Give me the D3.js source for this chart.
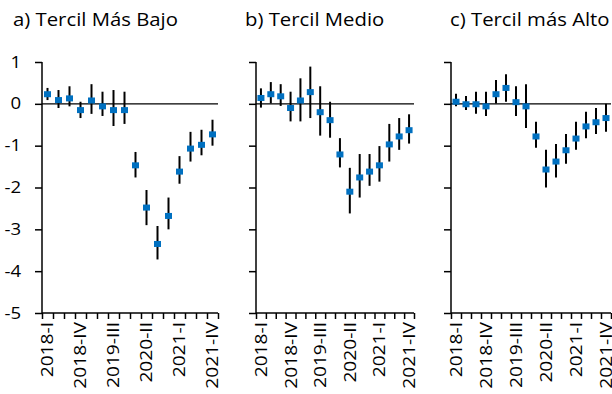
<!DOCTYPE html>
<html>
<head>
<meta charset="utf-8">
<script src="https://cdn.jsdelivr.net/npm/d3@7"></script>
<style>
  body { margin: 0; background: #fff; }
  svg { display: block; }
  text { font-family: "Open Sans", "DejaVu Sans", sans-serif; fill: #000; }
</style>
</head>
<body>
<svg id="chart" width="612" height="394"></svg>
<script>
// quarters on the x axis
var quarters = ["2018-I", "2018-II", "2018-III", "2018-IV",
  "2019-I", "2019-II", "2019-III", "2019-IV",
  "2020-I", "2020-II", "2020-III", "2020-IV",
  "2021-I", "2021-II", "2021-III", "2021-IV"];
var shownLabels = ["2018-I", "2018-IV", "2019-III", "2020-II", "2021-I", "2021-IV"];
var yTicks = [1, 0, -1, -2, -3, -4, -5];
var titles = ["a) Tercil Más Bajo", "b) Tercil Medio", "c) Tercil más Alto"];

// point estimates and confidence bounds, per tercile
var bajoVal = [0.23, 0.09, 0.13, -0.15, 0.08, -0.06, -0.15, -0.15, -1.47, -2.48, -3.35, -2.68, -1.62, -1.07, -0.98, -0.73];
var bajoLo  = [0.09, -0.10, -0.06, -0.34, -0.24, -0.29, -0.53, -0.48, -1.76, -2.90, -3.72, -3.00, -1.91, -1.38, -1.23, -1.00];
var bajoHi  = [0.38, 0.33, 0.42, 0.05, 0.47, 0.29, 0.33, 0.29, -1.15, -2.06, -2.92, -2.24, -1.25, -0.67, -0.62, -0.38];

var medioVal = [0.14, 0.23, 0.18, -0.10, 0.08, 0.28, -0.20, -0.39, -1.21, -2.10, -1.76, -1.62, -1.47, -0.97, -0.78, -0.63];
var medioLo  = [-0.09, 0.01, -0.05, -0.42, -0.42, -0.34, -0.76, -0.81, -1.52, -2.62, -2.24, -1.96, -1.86, -1.38, -1.10, -0.95];
var medioHi  = [0.37, 0.52, 0.47, 0.29, 0.61, 0.89, 0.42, 0.05, -0.82, -1.53, -1.20, -1.20, -1.01, -0.48, -0.34, -0.25];

var altoVal = [0.05, -0.01, -0.01, -0.06, 0.23, 0.38, 0.04, -0.06, -0.78, -1.57, -1.38, -1.11, -0.83, -0.54, -0.44, -0.34];
var altoLo  = [-0.06, -0.15, -0.24, -0.29, 0.01, 0.05, -0.29, -0.58, -1.05, -2.00, -1.76, -1.43, -1.10, -0.82, -0.72, -0.67];
var altoHi  = [0.24, 0.19, 0.29, 0.29, 0.57, 0.71, 0.42, 0.47, -0.43, -1.10, -0.96, -0.72, -0.43, -0.19, -0.10, 0.00];

var panels = [
  { title: titles[0], val: bajoVal, lo: bajoLo, hi: bajoHi, x0: 42, x1: 218, tx: 13, labels: true },
  { title: titles[1], val: medioVal, lo: medioLo, hi: medioHi, x0: 256, x1: 414, tx: 245, labels: false },
  { title: titles[2], val: altoVal, lo: altoLo, hi: altoHi, x0: 451, x1: 611, tx: 450, labels: false }
];

// the reference font runs a bit wider than Open Sans at the same height
var stretch = 1.16;
function widen(sel) {
  sel.each(function() {
    var w = this.getComputedTextLength();
    if (w > 0) {
      d3.select(this)
        .attr("textLength", w * stretch)
        .attr("lengthAdjust", "spacingAndGlyphs");
    }
  });
}

var svg = d3.select("#chart");
var y = d3.scaleLinear().domain([-5, 1]).range([313, 62]);

panels.forEach(function(p) {
  var g = svg.append("g");

  var x = d3.scaleBand().domain(quarters).range([p.x0, p.x1]).padding(0);
  var xIdx = d3.scaleLinear().domain([0, quarters.length]).range([p.x0, p.x1]);

  g.append("text")
    .attr("x", p.tx)
    .attr("y", 26)
    .style("font-size", "17.5px")
    .text(p.title)
    .call(widen);

  // error bars
  g.selectAll("line.err")
    .data(quarters)
    .enter().append("line")
    .attr("class", "err")
    .attr("x1", function(d) { return x(d) + x.bandwidth() / 2; })
    .attr("x2", function(d) { return x(d) + x.bandwidth() / 2; })
    .attr("y1", function(d, i) { return y(p.lo[i]); })
    .attr("y2", function(d, i) { return y(p.hi[i]); })
    .attr("stroke", "#000")
    .attr("stroke-width", 2);

  // zero line
  g.append("line")
    .attr("x1", p.x0).attr("x2", p.x1)
    .attr("y1", y(0)).attr("y2", y(0))
    .attr("stroke", "#000")
    .attr("stroke-width", 1.3);

  // y axis
  var yAxis = d3.axisLeft(y).tickValues(yTicks).tickSize(7).tickPadding(14)
    .tickFormat(p.labels ? function(d) { return String(d); } : "");
  var ya = g.append("g")
    .attr("transform", "translate(" + p.x0 + ",0)")
    .call(yAxis);
  ya.select(".domain").attr("stroke", "#000").attr("stroke-width", 1.5).attr("d", "M0," + y(1) + "V" + y(-5));
  ya.selectAll(".tick line").attr("stroke", "#000").attr("stroke-width", 1.5);
  ya.selectAll("text").style("font-size", "16px").attr("fill", "#000").call(widen);

  // x axis: tick marks at quarter boundaries
  var xTicks = g.append("g")
    .attr("transform", "translate(0," + y(-5) + ")")
    .call(d3.axisBottom(xIdx).tickValues(d3.range(quarters.length + 1)).tickSize(6).tickFormat(""));
  xTicks.select(".domain").attr("stroke", "#000").attr("stroke-width", 1.5).attr("d", "M" + p.x0 + ",0H" + p.x1);
  xTicks.selectAll(".tick line").attr("stroke", "#000").attr("stroke-width", 1.5);

  // x labels
  var xa = g.append("g")
    .attr("transform", "translate(0," + y(-5) + ")")
    .call(d3.axisBottom(x).tickSize(0).tickFormat(function(d) {
      return shownLabels.indexOf(d) >= 0 ? d : "";
    }));
  xa.select(".domain").remove();
  xa.selectAll("text")
    .style("font-size", "16.5px")
    .attr("fill", "#000")
    .attr("text-anchor", "end")
    .attr("transform", "rotate(-90)")
    .attr("x", -9)
    .attr("y", 0)
    .attr("dy", "0.36em")
    .call(widen);

  // point markers
  g.selectAll("rect.pt")
    .data(quarters)
    .enter().append("rect")
    .attr("class", "pt")
    .attr("x", function(d) { return x(d) + x.bandwidth() / 2 - 3.5; })
    .attr("y", function(d, i) { return y(p.val[i]) - 3; })
    .attr("width", 7)
    .attr("height", 6)
    .attr("fill", "#0070C0");
});
</script>
</body>
</html>
